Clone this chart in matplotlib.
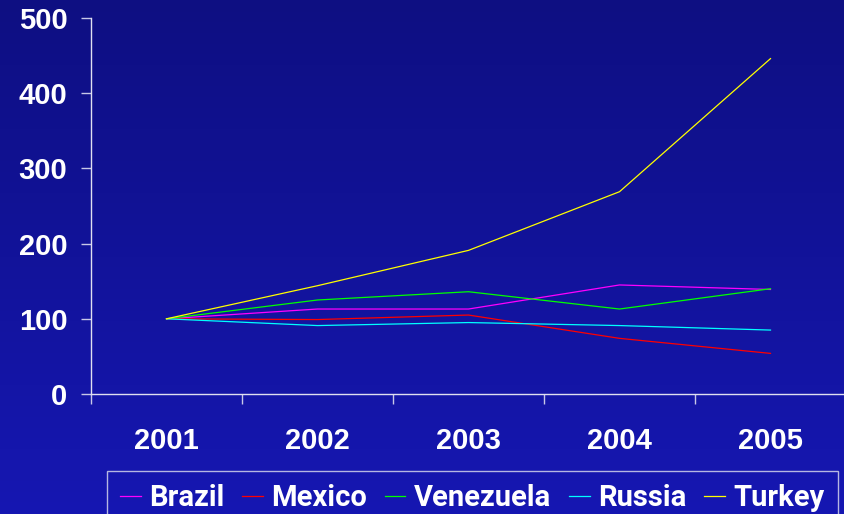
import matplotlib
matplotlib.use("Agg")
import matplotlib.pyplot as plt
import numpy as np

years = ["2001", "2002", "2003", "2004", "2005"]
brazil = [100, 113, 113, 145, 139]
mexico = [100, 99, 105, 74, 54]
venezuela = [100, 125, 136, 113, 140]
russia = [100, 91, 95, 91, 85]
turkey = [100, 144, 191, 269, 446]

series = [("Brazil", brazil, "#ff00ff"),
          ("Mexico", mexico, "#ff0000"),
          ("Venezuela", venezuela, "#00ff00"),
          ("Russia", russia, "#00ffff"),
          ("Turkey", turkey, "#ffff00")]

fig = plt.figure(figsize=(8.44, 5.14), dpi=100)

# gradient background
bg = fig.add_axes([0, 0, 1, 1], zorder=-10)
grad = np.linspace(0, 1, 256).reshape(-1, 1)
top = np.array([14, 15, 130]) / 255
bot = np.array([22, 23, 178]) / 255
img = top + (bot - top) * grad[:, :, None]
bg.imshow(img, aspect="auto", extent=[0, 1, 0, 1])
bg.axis("off")

ax = fig.add_axes([91/844, 1 - 394/514, 755/844, 376/514])
ax.set_facecolor("none")

x = np.arange(len(years))
for name, vals, col in series:
    ax.plot(x, vals, color=col, lw=0.9, label=name)

ax.set_xlim(-0.5, len(years) - 0.5)
ax.set_ylim(0, 500)
ax.set_yticks([0, 100, 200, 300, 400, 500])
ax.set_xticks(x)
ax.set_xticklabels(years)
ax.set_xticks(np.arange(len(years) + 1) - 0.5, minor=True)
ax.tick_params(axis="x", which="major", length=0, pad=24)
ax.tick_params(axis="x", which="minor", length=7, color="#c8c8e8", width=1)
ax.tick_params(axis="y", length=7, color="#c8c8e8", width=1, pad=10)
for lab in ax.get_xticklabels() + ax.get_yticklabels():
    lab.set_fontsize(21)
    lab.set_fontweight("bold")
    lab.set_color("white")
    lab.set_family(["Liberation Sans", "DejaVu Sans"])

for s in ["top", "right"]:
    ax.spines[s].set_visible(False)
for s in ["left", "bottom"]:
    ax.spines[s].set_color("#e0e0f0")
    ax.spines[s].set_linewidth(1)

leg = fig.legend(loc="upper left", bbox_to_anchor=(107/844, 0, 731/844, 1 - 471/514),
                 mode="expand", ncol=5, frameon=True, fancybox=False,
                 handlelength=0.7, handletextpad=0.3, columnspacing=0.3,
                 borderpad=0.45, borderaxespad=0,
                 prop={"family": ["Roboto", "Liberation Sans"], "stretch": "condensed",
                       "weight": "bold", "size": 21})
leg.get_frame().set_facecolor("none")
leg.get_frame().set_edgecolor("#e0e0f0")
leg.get_frame().set_linewidth(1)
for t in leg.get_texts():
    t.set_color("white")

fig.savefig("out.png", dpi=100)
